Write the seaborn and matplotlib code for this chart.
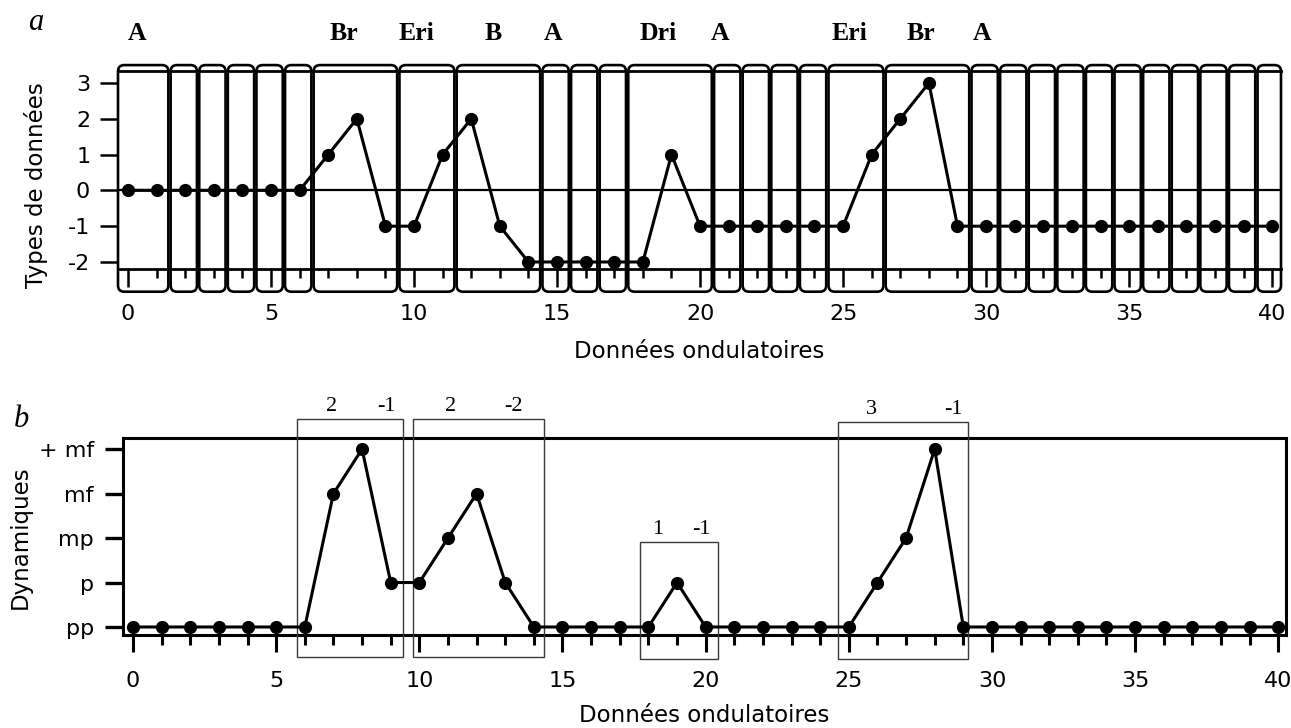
import matplotlib
matplotlib.use("Agg")
import matplotlib.pyplot as plt
import seaborn as sns
import pandas as pd
from matplotlib.patches import FancyBboxPatch, Rectangle
from matplotlib.transforms import blended_transform_factory

# ---------------- data ----------------
positions = list(range(41))

# panel a : types de données
types_values = [0, 0, 0, 0, 0, 0, 0, 1, 2, -1,
                -1, 1, 2, -1, -2, -2, -2, -2, -2, 1,
                -1, -1, -1, -1, -1, -1, 1, 2, 3, -1,
                -1, -1, -1, -1, -1, -1, -1, -1, -1, -1, -1]

# segmentation into groups (number of consecutive points per box)
group_sizes = [2, 1, 1, 1, 1, 1, 3, 2, 3, 1, 1, 1, 3, 1, 1, 1, 1, 2, 3,
               1, 1, 1, 1, 1, 1, 1, 1, 1, 1, 1]
segment_labels = ["A", "Br", "Eri", "B", "A", "Dri", "A", "Eri", "Br", "A"]
segment_label_x = [0.31, 7.55, 10.10, 12.76, 14.86, 18.53, 20.70, 25.24, 27.73, 29.86]

# panel b : dynamiques (0=pp ... 4=+mf)
dyn_labels = ["pp", "p", "mp", "mf", "+ mf"]
dyn_values = [0, 0, 0, 0, 0, 0, 0, 3, 4, 1,
              1, 2, 3, 1, 0, 0, 0, 0, 0, 1,
              0, 0, 0, 0, 0, 0, 1, 2, 4, 0,
              0, 0, 0, 0, 0, 0, 0, 0, 0, 0, 0]

# contour boxes in panel b
contour_left = [5.73, 9.78, 17.71, 24.62]
contour_right = [9.43, 14.36, 20.43, 29.17]
contour_top = [4.67, 4.67, 1.91, 4.61]
contour_bottom = [-0.67, -0.67, -0.72, -0.72]
contour_rise = ["2", "2", "1", "3"]
contour_fall = ["-1", "-2", "-1", "-1"]
rise_x = [6.92, 11.10, 18.34, 25.78]
fall_x = [8.84, 13.27, 19.84, 28.64]

# ---------------- style ----------------
sns.set_theme(style="white")
plt.rcParams["font.family"] = ["DejaVu Sans"]
plt.rcParams["text.color"] = "black"
plt.rcParams["axes.labelcolor"] = "black"
plt.rcParams["xtick.color"] = "black"
plt.rcParams["ytick.color"] = "black"
plt.rcParams["xtick.labelcolor"] = "black"
plt.rcParams["ytick.labelcolor"] = "black"
plt.rcParams["axes.unicode_minus"] = False

W, H = 1291, 728
fig = plt.figure(figsize=(W / 100, H / 100), dpi=100)
fig.patch.set_facecolor("white")


def px_axes(l, t, r, b):
    return [l / W, 1 - b / H, (r - l) / W, (b - t) / H]


TICK_FS = 16
LABEL_FS = 16.5
SERIF = ["Liberation Serif", "DejaVu Serif"]

# ================= panel a =================
axA = fig.add_axes(px_axes(118, 71, 1281, 269))
dfa = pd.DataFrame({"x": positions, "y": types_values})
sns.lineplot(data=dfa, x="x", y="y", ax=axA, color="black", linewidth=2.2,
             marker="o", markersize=9.5, markeredgewidth=0, zorder=5)
axA.set_xlim(-0.35, 40.31)
axA.set_ylim(-2.196, 3.335)
axA.axhline(0, color="black", lw=1.6, zorder=2)
for s in ["left", "right"]:
    axA.spines[s].set_visible(False)
for s in ["top", "bottom"]:
    axA.spines[s].set_linewidth(2.0)
    axA.spines[s].set_color("black")
axA.set_xticks(range(0, 41, 5))
axA.set_xticks(positions, minor=True)
axA.set_yticks([-2, -1, 0, 1, 2, 3])
axA.tick_params(axis="x", which="major", direction="out", length=13, width=1.8,
                color="black", labelsize=TICK_FS, pad=12, bottom=True)
axA.tick_params(axis="x", which="minor", direction="out", length=6.5, width=1.8,
                color="black", bottom=True)
axA.tick_params(axis="y", which="major", direction="out", length=13, width=1.8,
                color="black", labelsize=TICK_FS, pad=7, left=True)
axA.set_ylabel("")

# rounded group boxes
xmin, xmax = axA.get_xlim()
box_top, box_bot = 3.50, -2.83
start = 0
bounds = []
for g in group_sizes:
    end = start + g - 1
    bounds.append((start, end))
    start = end + 1
for i, (s, e) in enumerate(bounds):
    left = xmin if i == 0 else bounds[i - 1][1] + 0.45 + 0.04
    right = xmax if i == len(bounds) - 1 else e + 0.45 - 0.04
    box = FancyBboxPatch((left, box_bot), right - left, box_top - box_bot,
                         boxstyle="round,pad=0,rounding_size=0.22",
                         mutation_aspect=0.8, fill=False, lw=1.9,
                         ec="black", clip_on=False, zorder=6,
                         transform=axA.transData)
    axA.add_patch(box)

# segment labels
trA = blended_transform_factory(axA.transData, fig.transFigure)
for lab, x in zip(segment_labels, segment_label_x):
    axA.text(x, 1 - 34 / H, lab, transform=trA, ha="center", va="center",
             fontsize=18.5, fontweight="bold", family=SERIF)

axA.set_xlabel("Données ondulatoires", fontsize=LABEL_FS)
axA.xaxis.set_label_coords(0.5, (269 - 352) / 198)
axA.xaxis.label.set_va("center")
fig.text(36 / W, 1 - 185 / H, "Types de données", rotation=90,
         ha="center", va="center", fontsize=LABEL_FS)
fig.text(36 / W, 1 - 22 / H, "a", ha="center", va="center", fontsize=22,
         style="italic", family=SERIF)

# ================= panel b =================
axB = fig.add_axes(px_axes(123, 438, 1286, 635))
dfb = pd.DataFrame({"x": positions, "y": dyn_values})
sns.lineplot(data=dfb, x="x", y="y", ax=axB, color="black", linewidth=2.2,
             marker="o", markersize=9.5, markeredgewidth=0, zorder=5)
axB.set_xlim(-0.35, 40.27)
axB.set_ylim(-0.18, 4.25)
for s in axB.spines.values():
    s.set_visible(True)
    s.set_linewidth(2.2)
    s.set_color("black")
axB.set_xticks(range(0, 41, 5))
axB.set_xticks(positions, minor=True)
axB.set_yticks(range(len(dyn_labels)))
axB.set_yticklabels(dyn_labels)
axB.tick_params(axis="x", which="major", direction="out", length=12.5, width=2.2,
                color="black", labelsize=TICK_FS, pad=13.5, bottom=True)
axB.tick_params(axis="x", which="minor", direction="out", length=7, width=2.2,
                color="black", bottom=True)
axB.tick_params(axis="y", which="major", direction="out", length=13, width=2.4,
                color="black", labelsize=TICK_FS, pad=8, left=True)
axB.set_ylabel("")

for l, r, t, b, ri, fa, rx, fx in zip(contour_left, contour_right, contour_top,
                                       contour_bottom, contour_rise, contour_fall,
                                       rise_x, fall_x):
    axB.add_patch(Rectangle((l, b), r - l, t - b, fill=False, lw=1.0,
                            ec="#3a3a3a", clip_on=False, zorder=4))
    axB.text(rx, t + 0.29, ri, ha="center", va="center", fontsize=16,
             family=SERIF)
    axB.text(fx, t + 0.29, fa, ha="center", va="center", fontsize=16,
             family=SERIF)

axB.set_xlabel("Données ondulatoires", fontsize=LABEL_FS)
axB.xaxis.set_label_coords(0.5, (635 - 716) / 197)
axB.xaxis.label.set_va("center")
fig.text(20 / W, 1 - 537 / H, "Dynamiques", rotation=90,
         ha="center", va="center", fontsize=LABEL_FS)
fig.text(21 / W, 1 - 420 / H, "b", ha="center", va="center", fontsize=22,
         style="italic", family=SERIF)

fig.savefig("out.png", dpi=100, facecolor="white")
